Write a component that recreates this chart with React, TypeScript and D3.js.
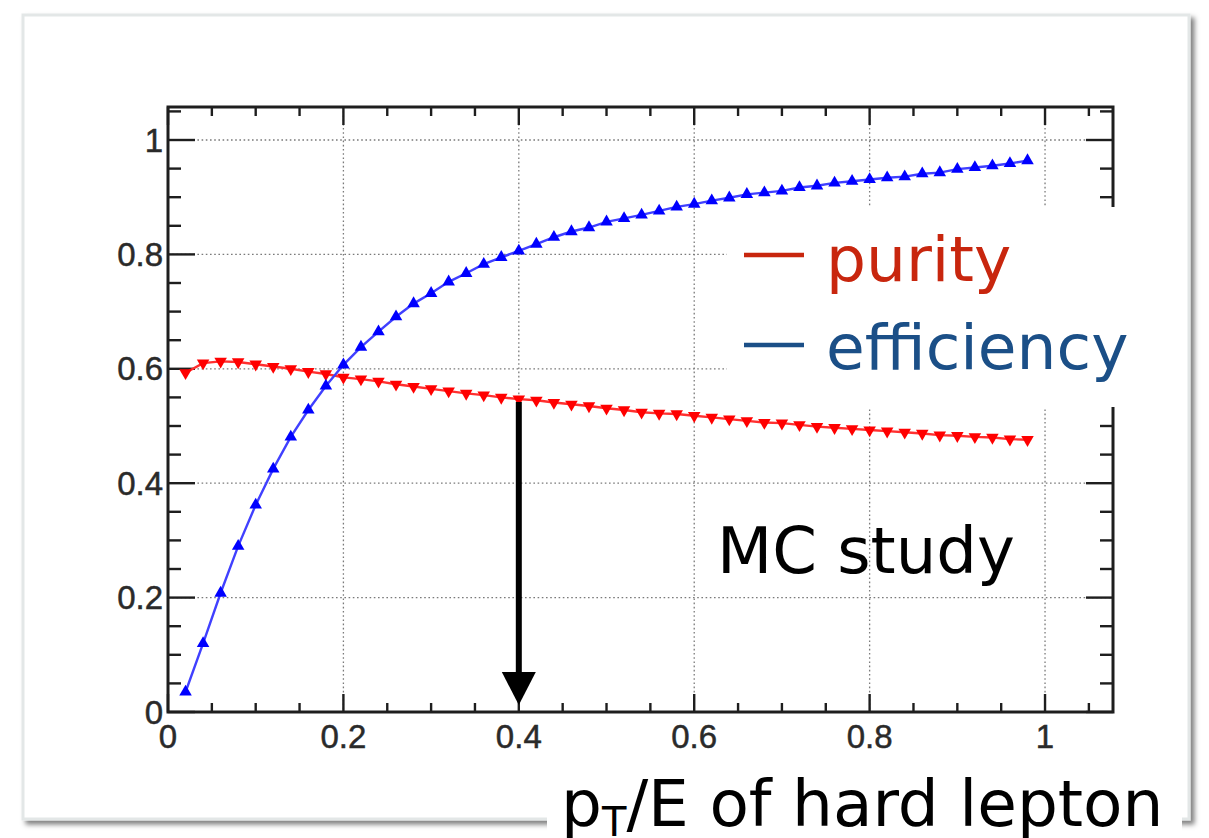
import React, { useEffect } from "react";
import * as d3 from "d3";

// ---- data ----
const binCenters = [
  0.02, 0.04, 0.06, 0.08, 0.1, 0.12, 0.14, 0.16, 0.18, 0.2,
  0.22, 0.24, 0.26, 0.28, 0.3, 0.32, 0.34, 0.36, 0.38, 0.4,
  0.42, 0.44, 0.46, 0.48, 0.5, 0.52, 0.54, 0.56, 0.58, 0.6,
  0.62, 0.64, 0.66, 0.68, 0.7, 0.72, 0.74, 0.76, 0.78, 0.8,
  0.82, 0.84, 0.86, 0.88, 0.9, 0.92, 0.94, 0.96, 0.98,
];

const efficiency = [
  0.035, 0.12, 0.208, 0.29, 0.362, 0.425, 0.481, 0.528, 0.57, 0.607,
  0.638, 0.665, 0.691, 0.714, 0.732, 0.752, 0.767, 0.783, 0.795, 0.806,
  0.818, 0.83, 0.84, 0.847, 0.857, 0.863, 0.869, 0.876, 0.883, 0.888,
  0.894, 0.899, 0.905, 0.908, 0.911, 0.917, 0.92, 0.925, 0.928, 0.931,
  0.934, 0.936, 0.941, 0.943, 0.949, 0.952, 0.955, 0.959, 0.964,
];

const purity = [
  0.593, 0.61, 0.613, 0.612, 0.608, 0.604, 0.6, 0.595, 0.591, 0.585,
  0.582, 0.578, 0.573, 0.569, 0.565, 0.561, 0.557, 0.554, 0.55, 0.547,
  0.545, 0.541, 0.538, 0.535, 0.531, 0.528, 0.524, 0.522, 0.521, 0.518,
  0.515, 0.512, 0.509, 0.506, 0.505, 0.502, 0.499, 0.497, 0.495, 0.493,
  0.491, 0.489, 0.487, 0.484, 0.483, 0.481, 0.48, 0.477, 0.476,
];

const majorTicks = [0, 0.2, 0.4, 0.6, 0.8, 1];
const tickLabels = ["0", "0.2", "0.4", "0.6", "0.8", "1"];
const minorTicks = [
  0.05, 0.1, 0.15, 0.25, 0.3, 0.35, 0.45, 0.5, 0.55, 0.65, 0.7, 0.75, 0.85,
  0.9, 0.95, 1.05,
];
const xRange = [0, 1.0775];
const yRange = [0, 1.0577];
const cutValue = 0.4;

const legendItems = [
  { label: "purity", color: "#c8260e" },
  { label: "efficiency", color: "#1b4f87" },
];

export default function App() {
  useEffect(() => {
    document.body.style.margin = "0";
    document.body.style.overflow = "hidden";
  }, []);

  const W = 1209;
  const H = 838;
  const left = 168, right = 1113, top = 107, bottom = 712;

  const x = d3.scaleLinear().domain(xRange).range([left, right]);
  const y = d3.scaleLinear().domain(yRange).range([bottom, top]);

  const effPts = binCenters.map((c, i) => [c, efficiency[i]] as [number, number]);
  const purPts = binCenters.map((c, i) => [c, purity[i]] as [number, number]);
  const line = d3.line<[number, number]>().x((d) => x(d[0])).y((d) => y(d[1]));

  const upTri = d3.symbol().type(d3.symbolTriangle).size(68)();
  const axisCol = "#1e1e1e";
  const tickFont = "'Liberation Sans', Arial, Helvetica, sans-serif";
  const bigFont = "'DejaVu Sans', Verdana, sans-serif";

  const purAtCut = purity[binCenters.indexOf(cutValue)];
  const ax = x(cutValue);
  const arrowTop = y(purAtCut) + 3;
  const arrowTip = y(0) - 7;

  return (
    <svg
      width={W}
      height={H}
      style={{ position: "absolute", left: 0, top: 0, background: "#ffffff" }}
    >
      <defs>
        <filter id="cardShadow" x="-5%" y="-5%" width="110%" height="110%">
          <feDropShadow dx="4" dy="4" stdDeviation="2.5" floodColor="#000" floodOpacity="0.5" />
        </filter>
        <clipPath id="plotClip">
          <rect x={left} y={top} width={right - left} height={bottom - top} />
        </clipPath>
      </defs>

      {/* card */}
      <rect x={23} y={15} width={1166} height={804} fill="#ffffff" stroke="#e3e7e7" strokeWidth={3} filter="url(#cardShadow)" />

      {/* grid */}
      <g stroke="#7a7a7a" strokeWidth={1.3} strokeDasharray="1.6,2.6">
        {majorTicks.filter((t) => t > 0).map((t) => (
          <line key={"gx" + t} x1={x(t)} x2={x(t)} y1={top} y2={bottom} />
        ))}
        {majorTicks.filter((t) => t > 0).map((t) => (
          <line key={"gy" + t} x1={left} x2={right} y1={y(t)} y2={y(t)} />
        ))}
      </g>

      {/* ticks */}
      <g stroke={axisCol} strokeWidth={2.4}>
        {majorTicks.map((t) => (
          <g key={"mt" + t}>
            <line x1={x(t)} x2={x(t)} y1={bottom} y2={bottom - 18} />
            <line x1={x(t)} x2={x(t)} y1={top} y2={top + 18} />
            <line x1={left} x2={left + 27} y1={y(t)} y2={y(t)} />
            <line x1={right} x2={right - 27} y1={y(t)} y2={y(t)} />
          </g>
        ))}
        {minorTicks.map((t) => (
          <g key={"mn" + t}>
            <line x1={x(t)} x2={x(t)} y1={bottom} y2={bottom - 9} />
            <line x1={x(t)} x2={x(t)} y1={top} y2={top + 9} />
            <line x1={left} x2={left + 13} y1={y(t)} y2={y(t)} />
            <line x1={right} x2={right - 13} y1={y(t)} y2={y(t)} />
          </g>
        ))}
      </g>

      {/* frame */}
      <rect x={left} y={top} width={right - left} height={bottom - top} fill="none" stroke={axisCol} strokeWidth={3} />

      {/* curves */}
      <g clipPath="url(#plotClip)">
        <path d={line(purPts) || ""} fill="none" stroke="#ff3030" strokeWidth={2.4} />
        <path d={line(effPts) || ""} fill="none" stroke="#4040ff" strokeWidth={2.4} />
        {purPts.map((p, i) => (
          <path key={"pm" + i} d={upTri || ""} transform={`translate(${x(p[0])},${y(p[1])}) rotate(180)`} fill="#ff0000" />
        ))}
        {effPts.map((p, i) => (
          <path key={"em" + i} d={upTri || ""} transform={`translate(${x(p[0])},${y(p[1])})`} fill="#0000ff" />
        ))}
      </g>

      {/* arrow at cut */}
      <line x1={ax} x2={ax} y1={arrowTop} y2={arrowTip - 28} stroke="#000" strokeWidth={6} />
      <path d={`M${ax - 17},${arrowTip - 33} L${ax + 17},${arrowTip - 33} L${ax},${arrowTip} Z`} fill="#000" />

      {/* tick labels */}
      <g fontFamily={tickFont} fontSize={33} fill="#2a2a2a" stroke="#2a2a2a" strokeWidth={0.5}>
        {majorTicks.map((t, i) => (
          <text key={"yl" + t} x={left - 5} y={y(t)} textAnchor="end" dominantBaseline="central">
            {tickLabels[i]}
          </text>
        ))}
        {majorTicks.map((t, i) => (
          <text key={"xl" + t} x={x(t)} y={748} textAnchor="middle">
            {tickLabels[i]}
          </text>
        ))}
      </g>

      {/* legend box */}
      <rect x={727} y={207} width={395} height={200} fill="#ffffff" />
      {legendItems.map((d, i) => (
        <g key={d.label}>
          <line x1={744} x2={804} y1={255 + i * 90} y2={255 + i * 90} stroke={d.color} strokeWidth={4.5} />
          <text x={826} y={281 + i * 88} fontFamily={bigFont} fontSize={63} fill={d.color}>
            {d.label}
          </text>
        </g>
      ))}

      {/* annotation */}
      <text x={717} y={573} fontFamily={bigFont} fontSize={64} fill="#000">
        MC study
      </text>

      {/* x axis title */}
      <rect x={547} y={780} width={635} height={58} fill="#ffffff" />
      <text x={561} y={826} fontFamily={bigFont} fontSize={64.5} fill="#000">
        p
        <tspan fontSize={40} dy={10}>T</tspan>
        <tspan dy={-10}>/E of hard lepton</tspan>
      </text>
    </svg>
  );
}
